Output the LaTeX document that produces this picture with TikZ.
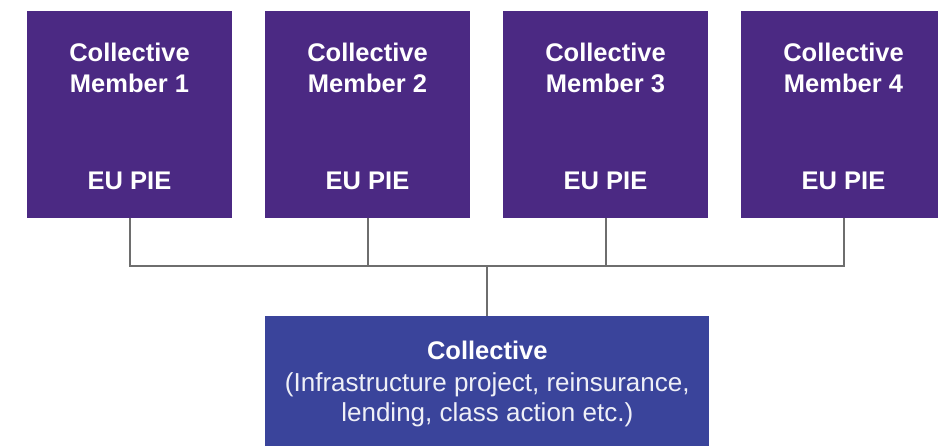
\documentclass[tikz,border=0pt]{standalone}
\usepackage{fontspec}
\setmainfont{Liberation Sans}
\definecolor{memberpurple}{HTML}{4B2983}
\definecolor{collblue}{HTML}{3A449B}
\definecolor{linegray}{HTML}{6E6E6E}
\begin{document}
\begin{tikzpicture}[x=1pt,y=-1pt,
  memberbox/.style={fill=memberpurple,draw=none,minimum width=205.6pt,minimum height=206.6pt,inner sep=0pt,outer sep=0pt},
  collbox/.style={fill=collblue,draw=none,minimum width=444pt,minimum height=150pt,inner sep=0pt,outer sep=0pt},
  boldtxt/.style={text=white,font=\bfseries\fontsize{25.5}{30}\selectfont,anchor=base,inner sep=0pt},
  regtxt/.style={text=white!92!collblue,font=\fontsize{26}{30}\selectfont,anchor=base,inner sep=0pt},
  conn/.style={draw=linegray,line width=2pt}]
\useasboundingbox (0,0) rectangle (938,446);
\clip (0,0) rectangle (938,446);
\foreach \i/\cx in {1/129.5,2/367.5,3/605.5,4/843.5}{
  \node[memberbox] (m\i) at (\cx,114.3) {};
  \node[boldtxt] (t\i a) at (\cx,61.7) {Collective};
  \node[boldtxt] (t\i b) at (\cx,92.5) {Member \i};
  \node[boldtxt] (t\i c) at (\cx,189.3) {EU PIE};
}
\node[collbox,anchor=north] (c) at (487.3,316) {};
\node[boldtxt] (ca) at (487.3,359.3) {Collective};
\node[regtxt] (cb) at (487.3,391.7) {(Infrastructure project, reinsurance,};
\node[regtxt] (cc) at (487.3,421.7) {lending, class action etc.)};
\coordinate (bus) at (487.3,266.5);
\draw[conn] (m1.south) |- (bus) -| (m4.south);
\draw[conn] (m2.south) -- (m2.south |- bus);
\draw[conn] (m3.south) -- (m3.south |- bus);
\draw[conn] (bus) -- (c.north);
\end{tikzpicture}
\end{document}
